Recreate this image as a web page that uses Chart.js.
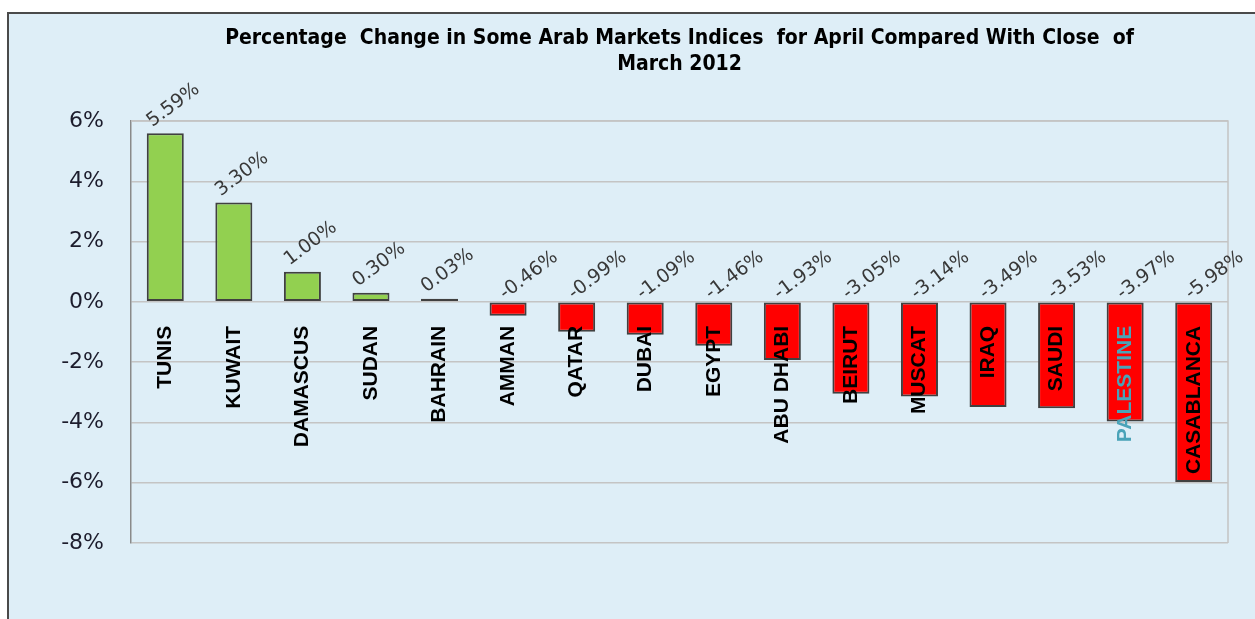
<!DOCTYPE html>
<html><head><meta charset="utf-8">
<script src="https://cdn.jsdelivr.net/npm/chart.js@4/dist/chart.umd.min.js"></script>
<style>
html,body{margin:0;padding:0;background:#fff;width:1255px;height:619px;overflow:hidden}
#frame{position:absolute;left:7px;top:12px;width:1260px;height:620px;background:#deeef7;border-left:2px solid #4a4a4a;border-top:2px solid #4a4a4a}
#wrap{position:absolute;left:0;top:0;width:1255px;height:619px}
</style></head><body>
<div id="frame"></div>
<div id="wrap"><canvas id="c" width="1255" height="619"></canvas></div>
<script>
const titleLines = ["Percentage  Change in Some Arab Markets Indices  for April Compared With Close  of", "March 2012"];
const categories = ["TUNIS","KUWAIT","DAMASCUS","SUDAN","BAHRAIN","AMMAN","QATAR","DUBAI","EGYPT","ABU DHABI","BEIRUT","MUSCAT","IRAQ","SAUDI","PALESTINE","CASABLANCA"];
const changes = [5.59, 3.30, 1.00, 0.30, 0.03, -0.46, -0.99, -1.09, -1.46, -1.93, -3.05, -3.14, -3.49, -3.53, -3.97, -5.98];
const yTicks = [-8, -6, -4, -2, 0, 2, 4, 6];

const GREEN = '#92d050', RED = '#ff0000';

const valueLabels = {
  id: 'valueLabels',
  afterDatasetsDraw(chart) {
    const ctx = chart.ctx;
    const meta = chart.getDatasetMeta(0);
    ctx.save();
    ctx.font = '19px "DejaVu Sans"';
    ctx.fillStyle = '#383838';
    ctx.textAlign = 'left';
    ctx.textBaseline = 'alphabetic';
    meta.data.forEach((bar, i) => {
      const v = changes[i];
      const top = Math.min(bar.y, bar.base);
      const dx = v >= 0 ? -13 : -3;
      const dy = v >= 0 ? -6 : -3;
      ctx.save();
      ctx.translate(bar.x + dx, top + dy);
      ctx.rotate(-37 * Math.PI / 180);
      ctx.fillText(v.toFixed(2) + '%', 0, 0);
      ctx.restore();
    });
    ctx.restore();
  }
};

const plotBox = {
  id: 'plotBox',
  beforeDatasetsDraw(chart) {
    const a = chart.chartArea, ctx = chart.ctx;
    ctx.save();
    ctx.strokeStyle = '#c4c4c4';
    ctx.lineWidth = 1.5;
    ctx.beginPath();
    ctx.moveTo(a.left, a.top);
    ctx.lineTo(a.right, a.top);
    ctx.lineTo(a.right, a.bottom);
    ctx.stroke();
    ctx.restore();
  }
};

new Chart(document.getElementById('c'), {
  type: 'bar',
  data: {
    labels: categories,
    datasets: [{
      data: changes,
      backgroundColor: ctx => (changes[ctx.dataIndex] >= 0 ? GREEN : RED),
      borderColor: '#404040',
      borderWidth: 2,
      borderSkipped: false,
      minBarLength: 3,
      barPercentage: 0.54,
      categoryPercentage: 1.0
    }]
  },
  options: {
    responsive: false,
    animation: false,
    devicePixelRatio: 1,
    layout: { padding: { left: 0, right: 27, top: 0, bottom: 76 } },
    plugins: {
      legend: { display: false },
      tooltip: { enabled: false },
      title: {
        display: true,
        fullSize: false,
        text: titleLines,
        color: '#000',
        font: { family: '"DejaVu Sans Condensed", "DejaVu Sans"', size: 21, weight: 'bold', lineHeight: '26px' },
        padding: { top: 26, bottom: 43 }
      }
    },
    scales: {
      x: {
        position: { y: 0 },
        grid: { display: false, drawTicks: false },
        border: { display: false },
        ticks: {
          z: 1,
          autoSkip: false,
          minRotation: 90,
          maxRotation: 90,
          padding: 24,
          color: ctx => (categories[ctx.index] === 'PALESTINE' ? '#4aa3b8' : '#000'),
          font: { family: '"Liberation Sans", Arial', size: 21, weight: 'bold' }
        },
        afterFit(scale) { scale.height = 0; }
      },
      y: {
        min: -8,
        max: 6,
        afterBuildTicks(scale) { scale.ticks = yTicks.map(v => ({ value: v })); },
        afterFit(scale) { scale.width = 131; },
        grid: { color: '#c4c4c4', lineWidth: 1.5, drawTicks: false },
        border: { display: true, color: '#8a8a8a', width: 1.5 },
        ticks: {
          padding: 27,
          color: '#1c1c2c',
          font: { family: '"DejaVu Sans"', size: 22 },
          callback: v => v + '%'
        }
      }
    }
  },
  plugins: [plotBox, valueLabels]
});
</script>
</body></html>
